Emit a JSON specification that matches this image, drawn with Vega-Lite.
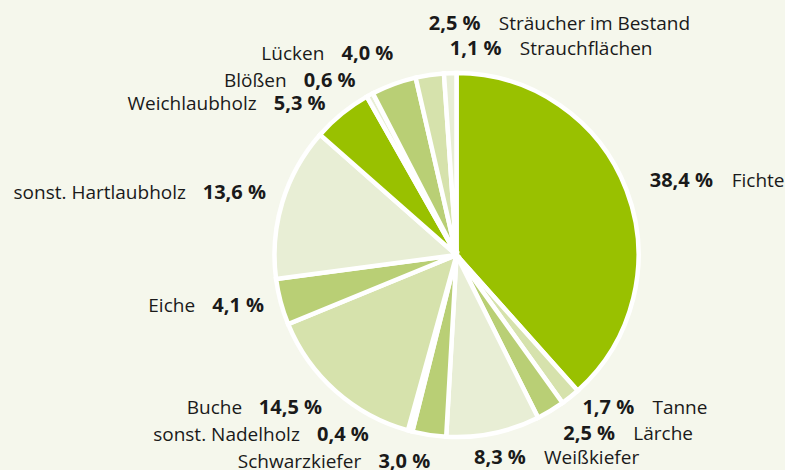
{
  "$schema": "https://vega.github.io/schema/vega-lite/v6.json",
  "autosize": {"type": "none"},
  "width": 657,
  "height": 430,
  "padding": {"left": 128, "top": 40, "right": 0, "bottom": 0},
  "background": "#f5f7ec",
  "config": {"view": {"stroke": null}, "text": {"font": "Open Sans", "fontSize": 19, "color": "#1a1a1a", "baseline": "middle"}},
  "data": {"values": [
    {"rank": 1, "name": "Fichte", "value": 38.4, "pct": "38,4 %"},
    {"rank": 2, "name": "Tanne", "value": 1.7, "pct": "1,7 %"},
    {"rank": 3, "name": "Lärche", "value": 2.5, "pct": "2,5 %"},
    {"rank": 4, "name": "Weißkiefer", "value": 8.3, "pct": "8,3 %"},
    {"rank": 5, "name": "Schwarzkiefer", "value": 3.0, "pct": "3,0 %"},
    {"rank": 6, "name": "sonst. Nadelholz", "value": 0.4, "pct": "0,4 %"},
    {"rank": 7, "name": "Buche", "value": 14.5, "pct": "14,5 %"},
    {"rank": 8, "name": "Eiche", "value": 4.1, "pct": "4,1 %"},
    {"rank": 9, "name": "sonst. Hartlaubholz", "value": 13.6, "pct": "13,6 %"},
    {"rank": 10, "name": "Weichlaubholz", "value": 5.3, "pct": "5,3 %"},
    {"rank": 11, "name": "Blößen", "value": 0.6, "pct": "0,6 %"},
    {"rank": 12, "name": "Lücken", "value": 4.0, "pct": "4,0 %"},
    {"rank": 13, "name": "Sträucher im Bestand", "value": 2.5, "pct": "2,5 %"},
    {"rank": 14, "name": "Strauchflächen", "value": 1.1, "pct": "1,1 %"}
  ]},
  "encoding": {
    "theta": {"field": "value", "type": "quantitative", "stack": true},
    "order": {"field": "rank", "type": "quantitative"},
    "detail": {"field": "name", "type": "nominal"}
  },
  "layer": [
    {
      "mark": {"type": "arc", "outerRadius": 182, "stroke": "white", "strokeWidth": 4.5},
      "encoding": {
        "color": {"field": "name", "type": "nominal", "legend": null,
          "scale": {
            "domain": ["Fichte", "Tanne", "Lärche", "Weißkiefer", "Schwarzkiefer", "sonst. Nadelholz", "Buche", "Eiche", "sonst. Hartlaubholz", "Weichlaubholz", "Blößen", "Lücken", "Sträucher im Bestand", "Strauchflächen"],
            "range": ["#99c100", "#d6e2ac", "#b9cf75", "#e8eed5", "#b9cf75", "#e8eed5", "#d6e2ac", "#b9cf75", "#e8eed5", "#99c100", "#e8eed5", "#b9cf75", "#d6e2ac", "#e8eed5"]
          }}
      }
    },
    {"mark": {"type": "text", "radius": 195, "align": "left", "fontWeight": "bold", "fontSize": 20, "dx": 11, "dy": -4},
     "encoding": {"text": {"condition": {"test": "datum.name === 'Fichte'", "field": "pct"}, "value": ""}}},
    {"mark": {"type": "text", "radius": 195, "align": "left", "dx": 93, "dy": -4},
     "encoding": {"text": {"condition": {"test": "datum.name === 'Fichte'", "field": "name"}, "value": ""}}},

    {"mark": {"type": "text", "radius": 195, "align": "left", "fontWeight": "bold", "fontSize": 20, "dx": 4, "dy": 1},
     "encoding": {"text": {"condition": {"test": "datum.name === 'Tanne'", "field": "pct"}, "value": ""}}},
    {"mark": {"type": "text", "radius": 195, "align": "left", "dx": 74, "dy": 1},
     "encoding": {"text": {"condition": {"test": "datum.name === 'Tanne'", "field": "name"}, "value": ""}}},

    {"mark": {"type": "text", "radius": 195, "align": "left", "fontWeight": "bold", "fontSize": 20, "dx": 6, "dy": 12},
     "encoding": {"text": {"condition": {"test": "datum.name === 'Lärche'", "field": "pct"}, "value": ""}}},
    {"mark": {"type": "text", "radius": 195, "align": "left", "dx": 76, "dy": 12},
     "encoding": {"text": {"condition": {"test": "datum.name === 'Lärche'", "field": "name"}, "value": ""}}},

    {"mark": {"type": "text", "radius": 195, "align": "left", "fontWeight": "bold", "fontSize": 20, "dx": -22, "dy": 12},
     "encoding": {"text": {"condition": {"test": "datum.name === 'Weißkiefer'", "field": "pct"}, "value": ""}}},
    {"mark": {"type": "text", "radius": 195, "align": "left", "dx": 48, "dy": 12},
     "encoding": {"text": {"condition": {"test": "datum.name === 'Weißkiefer'", "field": "name"}, "value": ""}}},

    {"mark": {"type": "text", "radius": 195, "align": "left", "fontWeight": "bold", "fontSize": 20, "dx": 1, "dy": -38},
     "encoding": {"text": {"condition": {"test": "datum.name === 'Sträucher im Bestand'", "field": "pct"}, "value": ""}}},
    {"mark": {"type": "text", "radius": 195, "align": "left", "dx": 71, "dy": -38},
     "encoding": {"text": {"condition": {"test": "datum.name === 'Sträucher im Bestand'", "field": "name"}, "value": ""}}},

    {"mark": {"type": "text", "radius": 195, "align": "left", "fontWeight": "bold", "fontSize": 20, "dx": 0, "dy": -11},
     "encoding": {"text": {"condition": {"test": "datum.name === 'Strauchflächen'", "field": "pct"}, "value": ""}}},
    {"mark": {"type": "text", "radius": 195, "align": "left", "dx": 70, "dy": -11},
     "encoding": {"text": {"condition": {"test": "datum.name === 'Strauchflächen'", "field": "name"}, "value": ""}}},

    {"mark": {"type": "text", "radius": 195, "align": "right", "fontWeight": "bold", "fontSize": 20, "dx": 3, "dy": 14},
     "encoding": {"text": {"condition": {"test": "datum.name === 'Schwarzkiefer'", "field": "pct"}, "value": ""}}},
    {"mark": {"type": "text", "radius": 195, "align": "right", "dx": -66, "dy": 14},
     "encoding": {"text": {"condition": {"test": "datum.name === 'Schwarzkiefer'", "field": "name"}, "value": ""}}},

    {"mark": {"type": "text", "radius": 195, "align": "right", "fontWeight": "bold", "fontSize": 20, "dx": -38, "dy": -9},
     "encoding": {"text": {"condition": {"test": "datum.name === 'sonst. Nadelholz'", "field": "pct"}, "value": ""}}},
    {"mark": {"type": "text", "radius": 195, "align": "right", "dx": -107, "dy": -9},
     "encoding": {"text": {"condition": {"test": "datum.name === 'sonst. Nadelholz'", "field": "name"}, "value": ""}}},

    {"mark": {"type": "text", "radius": 195, "align": "right", "fontWeight": "bold", "fontSize": 20, "dx": -5, "dy": 7},
     "encoding": {"text": {"condition": {"test": "datum.name === 'Buche'", "field": "pct"}, "value": ""}}},
    {"mark": {"type": "text", "radius": 195, "align": "right", "dx": -85, "dy": 7},
     "encoding": {"text": {"condition": {"test": "datum.name === 'Buche'", "field": "name"}, "value": ""}}},

    {"mark": {"type": "text", "radius": 195, "align": "right", "fontWeight": "bold", "fontSize": 20, "dx": -4, "dy": 1},
     "encoding": {"text": {"condition": {"test": "datum.name === 'Eiche'", "field": "pct"}, "value": ""}}},
    {"mark": {"type": "text", "radius": 195, "align": "right", "dx": -73, "dy": 1},
     "encoding": {"text": {"condition": {"test": "datum.name === 'Eiche'", "field": "name"}, "value": ""}}},

    {"mark": {"type": "text", "radius": 195, "align": "right", "fontWeight": "bold", "fontSize": 20, "dx": -4, "dy": -5},
     "encoding": {"text": {"condition": {"test": "datum.name === 'sonst. Hartlaubholz'", "field": "pct"}, "value": ""}}},
    {"mark": {"type": "text", "radius": 195, "align": "right", "dx": -84, "dy": -5},
     "encoding": {"text": {"condition": {"test": "datum.name === 'sonst. Hartlaubholz'", "field": "name"}, "value": ""}}},

    {"mark": {"type": "text", "radius": 195, "align": "right", "fontWeight": "bold", "fontSize": 20, "dx": -8, "dy": 0},
     "encoding": {"text": {"condition": {"test": "datum.name === 'Weichlaubholz'", "field": "pct"}, "value": ""}}},
    {"mark": {"type": "text", "radius": 195, "align": "right", "dx": -77, "dy": 0},
     "encoding": {"text": {"condition": {"test": "datum.name === 'Weichlaubholz'", "field": "name"}, "value": ""}}},

    {"mark": {"type": "text", "radius": 195, "align": "right", "fontWeight": "bold", "fontSize": 20, "dx": -8, "dy": -3},
     "encoding": {"text": {"condition": {"test": "datum.name === 'Blößen'", "field": "pct"}, "value": ""}}},
    {"mark": {"type": "text", "radius": 195, "align": "right", "dx": -77, "dy": -3},
     "encoding": {"text": {"condition": {"test": "datum.name === 'Blößen'", "field": "name"}, "value": ""}}},

    {"mark": {"type": "text", "radius": 195, "align": "right", "fontWeight": "bold", "fontSize": 20, "dx": 4, "dy": -18},
     "encoding": {"text": {"condition": {"test": "datum.name === 'Lücken'", "field": "pct"}, "value": ""}}},
    {"mark": {"type": "text", "radius": 195, "align": "right", "dx": -65, "dy": -18},
     "encoding": {"text": {"condition": {"test": "datum.name === 'Lücken'", "field": "name"}, "value": ""}}}
  ]
}
